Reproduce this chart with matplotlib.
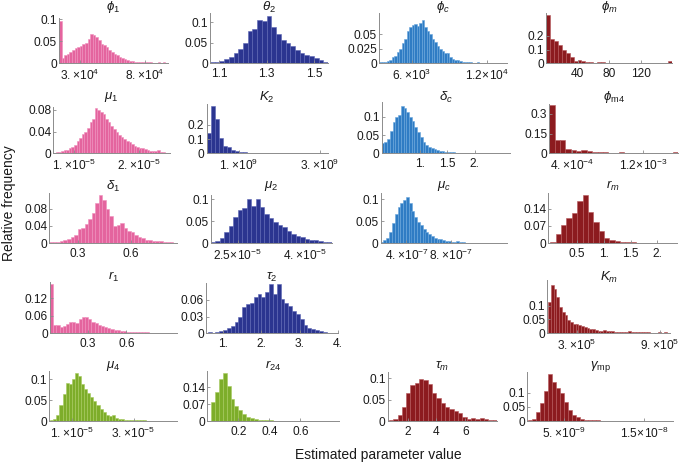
"""
Histogramas de los valores estimados de cada parámetro (frecuencia relativa).
Rejilla 5 x 4, una celda vacía.
"""

import numpy as np
import matplotlib
matplotlib.use("Agg")  # sin ventana
import matplotlib.pyplot as plt

plt.rcParams["font.family"] = ["Liberation Sans", "DejaVu Sans"]
plt.rcParams["mathtext.fontset"] = "custom"
plt.rcParams["mathtext.rm"] = "Liberation Sans"
plt.rcParams["mathtext.it"] = "Liberation Sans:italic"
plt.rcParams["mathtext.bf"] = "Liberation Sans:bold"
plt.rcParams["mathtext.fallback"] = "stixsans"

ANCHO_PX, ALTO_PX = 683, 465

# ---------------------------------------------------------------------------
# Datos: inicio del primer bin, ancho de bin y alturas (frecuencia relativa)
# ---------------------------------------------------------------------------
phi1_inicio, phi1_ancho = 1.4e4, 2e3
phi1_alturas = [0.097, 0.012, 0.018, 0.022, 0.026, 0.030, 0.034, 0.038, 0.040, 0.044,
                0.047, 0.055, 0.066, 0.064, 0.060, 0.052, 0.045, 0.042, 0.038, 0.030,
                0.026, 0.022, 0.019, 0.015, 0.011, 0.009, 0.007, 0.006, 0.005, 0.004,
                0.004, 0.003, 0.003, 0.002, 0.002, 0.002, 0.001, 0.001, 0.002, 0.001, 0.002]

theta2_inicio, theta2_ancho = 1.06, 0.02
theta2_alturas = [0.002, 0.004, 0.006, 0.010, 0.016, 0.024, 0.034, 0.050, 0.078, 0.083,
                  0.105, 0.102, 0.115, 0.088, 0.070, 0.056, 0.050, 0.042, 0.033, 0.025,
                  0.020, 0.017, 0.012, 0.008, 0.004]

phic_inicio, phic_ancho = 3400, 200
phic_alturas = [0.003, 0.003, 0.003, 0.004, 0.005, 0.010, 0.013, 0.020, 0.025, 0.035,
                0.042, 0.055, 0.063, 0.066, 0.068, 0.064, 0.070, 0.074, 0.062, 0.056,
                0.050, 0.042, 0.036, 0.030, 0.025, 0.022, 0.018, 0.018, 0.010, 0.008,
                0.006, 0.005, 0.004, 0.003, 0.003, 0.002, 0.002, 0.001, 0.001, 0.002,
                0.001, 0.001, 0.001, 0.001, 0.001, 0.001, 0.0, 0.001, 0.0, 0.001, 0.0]

phim_inicio, phim_ancho = 0, 5
phim_alturas = [0.354, 0.176, 0.166, 0.134, 0.100, 0.073, 0.044, 0.019, 0.024, 0.018,
                0.010, 0.006, 0.005, 0.007, 0.006, 0.003, 0.002, 0.002, 0.001, 0.002,
                0.001, 0.001, 0.001, 0.002, 0.001, 0.001, 0.001, 0.001, 0.001, 0.001,
                0.002, 0.020]

mu1_inicio, mu1_ancho = 0.68e-5, 4e-7
mu1_alturas = [0.001, 0.002,
               0.003, 0.004, 0.006, 0.006, 0.009, 0.011, 0.016, 0.022, 0.028, 0.035,
               0.040, 0.046, 0.058, 0.064, 0.083, 0.080, 0.076, 0.072, 0.063, 0.058,
               0.050, 0.045, 0.040, 0.034, 0.030, 0.027, 0.022, 0.020, 0.017, 0.014,
               0.012, 0.010, 0.009, 0.008, 0.007, 0.005, 0.005, 0.004, 0.006, 0.002,
               0.002, 0.001, 0.001]

K2_inicio, K2_ancho = 0.2e9, 1e8
K2_alturas = [0.144, 0.330, 0.244, 0.108, 0.053, 0.041, 0.025, 0.015, 0.010, 0.007,
              0.005, 0.004, 0.003, 0.003, 0.002, 0.002, 0.002, 0.001, 0.001, 0.001,
              0.001, 0.001, 0.001, 0.0, 0.001, 0.0, 0.001, 0.0, 0.0, 0.001]

deltac_inicio, deltac_ancho = 0.3, 0.05
deltac_alturas = [0.028, 0.032, 0.040, 0.060, 0.085, 0.098, 0.105, 0.130, 0.125, 0.112,
                  0.098, 0.088, 0.072, 0.058, 0.045, 0.030, 0.022, 0.018, 0.014, 0.012,
                  0.009, 0.007, 0.005, 0.004, 0.004, 0.003, 0.003, 0.002, 0.002, 0.002,
                  0.001, 0.001, 0.001, 0.0, 0.001, 0.001, 0.0, 0.001, 0.0, 0.001,
                  0.0, 0.0, 0.001, 0.0, 0.0, 0.001, 0.0]

phim4_inicio, phim4_ancho = 1.5e-4, 6e-5
phim4_alturas = [0.370, 0.104, 0.098, 0.034, 0.026, 0.021, 0.026, 0.016, 0.012, 0.010,
                 0.008, 0.006, 0.006, 0.008, 0.005, 0.004, 0.005, 0.004, 0.003, 0.004,
                 0.003, 0.002, 0.003, 0.012]

delta1_inicio, delta1_ancho = 0.14, 0.02
delta1_alturas = [0.002, 0.002, 0.003, 0.004, 0.006, 0.009, 0.013, 0.018, 0.032, 0.036,
                  0.044, 0.056, 0.070, 0.092, 0.112, 0.100, 0.078, 0.062, 0.040, 0.042,
                  0.046, 0.036, 0.028, 0.025, 0.018, 0.014, 0.011, 0.008, 0.006, 0.005,
                  0.004, 0.004, 0.003, 0.002, 0.002, 0.001]

mu2_inicio, mu2_ancho = 1.9e-5, 1e-6
mu2_alturas = [0.002, 0.004, 0.012, 0.025, 0.040, 0.060, 0.075, 0.080, 0.100, 0.085,
               0.100, 0.082, 0.066, 0.058, 0.048, 0.042, 0.036, 0.028, 0.020, 0.016,
               0.014, 0.010, 0.008, 0.006, 0.004, 0.003, 0.002]

muc_inicio, muc_ancho = 1.7e-7, 2.5e-8
muc_alturas = [0.002, 0.006, 0.012, 0.025, 0.045, 0.065, 0.082, 0.090, 0.098, 0.105,
               0.092, 0.072, 0.058, 0.048, 0.040, 0.032, 0.026, 0.020, 0.016, 0.012,
               0.010, 0.008, 0.006, 0.005, 0.004, 0.003, 0.003, 0.004, 0.002, 0.002,
               0.001, 0.001, 0.001, 0.0, 0.001, 0.0, 0.001, 0.0, 0.0, 0.001,
               0.0, 0.0, 0.0, 0.0, 0.001]

rm_inicio, rm_ancho = 0.0, 0.1
rm_alturas = [0.005, 0.035, 0.075, 0.100, 0.120, 0.170, 0.195, 0.125, 0.085, 0.050,
              0.020, 0.012, 0.008, 0.005, 0.004, 0.003, 0.002, 0.002, 0.001, 0.002,
              0.001, 0.001, 0.001]

r1_inicio, r1_ancho = 0.0, 0.025
r1_alturas = [0.170, 0.030, 0.030, 0.022, 0.025, 0.032, 0.038, 0.040, 0.036, 0.048,
              0.055, 0.055, 0.048, 0.040, 0.034, 0.028, 0.024, 0.020, 0.018, 0.015,
              0.012, 0.012, 0.009, 0.008, 0.006, 0.005, 0.005, 0.004, 0.003, 0.003,
              0.003, 0.002, 0.002, 0.002, 0.001, 0.002, 0.001, 0.001, 0.001, 0.001]

tau2_inicio, tau2_ancho = 0.6, 0.1
tau2_alturas = [0.002, 0.001, 0.002, 0.004, 0.006, 0.010, 0.014, 0.020, 0.030, 0.048,
                0.052, 0.055, 0.065, 0.070, 0.065, 0.075, 0.088, 0.070, 0.088, 0.062,
                0.055, 0.050, 0.040, 0.035, 0.025, 0.015, 0.010, 0.008, 0.006, 0.004,
                0.002]

Km_inicio, Km_ancho = 0.9e5, 2e4
Km_alturas = [0.114, 0.174, 0.160, 0.132, 0.096, 0.076, 0.067, 0.049, 0.040, 0.033,
              0.033, 0.029, 0.026, 0.024, 0.020, 0.016, 0.014, 0.012, 0.010, 0.009,
              0.012, 0.010, 0.008, 0.007, 0.006, 0.005, 0.005, 0.006, 0.005, 0.007,
              0.004, 0.003, 0.004, 0.003, 0.004, 0.003, 0.003, 0.002, 0.002, 0.002,
              0.003, 0.002, 0.004, 0.002]

mu4_inicio, mu4_ancho = 3e-6, 1e-6
mu4_alturas = [0.002, 0.005, 0.015, 0.038, 0.065, 0.092, 0.088, 0.100, 0.116, 0.108,
               0.090, 0.078, 0.068, 0.058, 0.048, 0.038, 0.030, 0.022, 0.014, 0.012,
               0.014, 0.009, 0.006, 0.006, 0.004, 0.004, 0.003, 0.003, 0.002, 0.002,
               0.002, 0.001, 0.001, 0.001, 0.001, 0.001, 0.001, 0.0, 0.001, 0.0, 0.001]

r24_inicio, r24_ancho = 0.0, 0.025
r24_alturas = [0.0, 0.079, 0.121, 0.174, 0.200, 0.146, 0.093, 0.062, 0.048, 0.030,
               0.018, 0.012, 0.008, 0.006, 0.005, 0.004, 0.005, 0.003, 0.002, 0.002,
               0.001, 0.001, 0.001, 0.001, 0.0, 0.001, 0.0, 0.0, 0.001, 0.0,
               0.0, 0.0, 0.0, 0.001]

taum_inicio, taum_ancho = 0.7, 0.3
taum_alturas = [0.003, 0.005, 0.015, 0.034, 0.065, 0.084, 0.089, 0.097, 0.095, 0.086,
                0.065, 0.053, 0.042, 0.034, 0.028, 0.023, 0.019, 0.011, 0.005, 0.008,
                0.006, 0.008, 0.005, 0.003, 0.002]

gmp_inicio, gmp_ancho = 0.5e-9, 0.5e-9
gmp_alturas = [0.003, 0.008, 0.034, 0.065, 0.107, 0.165, 0.138, 0.115, 0.098, 0.069,
               0.040, 0.022, 0.014, 0.008, 0.006, 0.004, 0.005, 0.003, 0.002, 0.002,
               0.001, 0.002, 0.001, 0.001, 0.001, 0.001, 0.0, 0.001, 0.001, 0.0,
               0.001, 0.0, 0.0, 0.001, 0.0, 0.001]

# ---------------------------------------------------------------------------
# Colores (relleno, borde)
# ---------------------------------------------------------------------------
ROSA = ("#e4649e", "#f08fbd")
AZUL_OSC = ("#2b3590", "#5c66b4")
AZUL = ("#2f7cc4", "#6aa6dc")
ROJO = ("#8c1b1f", "#b5575a")
VERDE = ("#7dad2a", "#a7cb5f")

# fila -> (y del cero en px, y del título en px)
FILAS = {0: (63.3, 7), 1: (153.3, 97), 2: (243.0, 186), 3: (333.3, 277), 4: (421.3, 366)}

# cada panel: título, color, fila, izquierda/derecha/arriba en px, datos,
# límites x, tope y, ticks y, ticks x (valores y etiquetas)
PANELES = [
    (r"$\phi_1$", ROSA, 0, 59, 168, 18, (phi1_inicio, phi1_ancho, phi1_alturas),
     (1.4e4, 9.8e4), 0.103, [0, 0.05, 0.1], ["0", "0.05", "0.1"],
     [3e4, 8e4], [r"$3.\!\times\!10^{4}$", r"$8.\!\times\!10^{4}$"]),
    (r"$\theta_2$", AZUL_OSC, 0, 210, 328, 13, (theta2_inicio, theta2_ancho, theta2_alturas),
     (1.06, 1.56), 0.122, [0, 0.05, 0.1], ["0", "0.05", "0.1"],
     [1.1, 1.3, 1.5], ["1.1", "1.3", "1.5"]),
    (r"$\phi_c$", AZUL, 0, 379, 507, 13, (phic_inicio, phic_ancho, phic_alturas),
     (3.4e3, 1.36e4), 0.0867, [0, 0.025, 0.05], ["0", "0.025", "0.05"],
     [6e3, 1.2e4], [r"$6.\!\times\!10^{3}$", r"$1.2\!\times\!10^{4}$"]),
    (r"$\phi_m$", ROJO, 0, 546, 672, 13.3, (phim_inicio, phim_ancho, phim_alturas),
     (0, 160), 0.366, [0, 0.1, 0.2], ["0", "0.1", "0.2"],
     [40, 80, 120], ["40", "80", "120"]),

    (r"$\mu_1$", ROSA, 1, 53.3, 170, 106.7, (mu1_inicio, mu1_ancho, mu1_alturas),
     (0.68e-5, 2.48e-5), 0.086, [0, 0.04, 0.08], ["0", "0.04", "0.08"],
     [1e-5, 2e-5], [r"$1.\!\times\!10^{-5}$", r"$2.\!\times\!10^{-5}$"]),
    (r"$K_2$", AZUL_OSC, 1, 206.5, 328, 104, (K2_inicio, K2_ancho, K2_alturas),
     (0.2e9, 3.2e9), 0.347, [0, 0.1, 0.2], ["0", "0.1", "0.2"],
     [1e9, 3e9], [r"$1.\!\times\!10^{9}$", r"$3.\!\times\!10^{9}$"]),
    (r"$\delta_c$", AZUL, 1, 381.7, 510, 101.7, (deltac_inicio, deltac_ancho, deltac_alturas),
     (0.3, 2.65), 0.141, [0, 0.05, 0.1], ["0", "0.05", "0.1"],
     [1.0, 1.5, 2.0], ["1.", "1.5", "2."]),
    (r"$\phi_{\mathrm{m4}}$", ROJO, 1, 549.3, 678, 104, (phim4_inicio, phim4_ancho, phim4_alturas),
     (1.5e-4, 1.59e-3), 0.376, [0, 0.15, 0.3], ["0", "0.15", "0.3"],
     [4e-4, 1.2e-3], [r"$4.\!\times\!10^{-4}$", r"$1.2\!\times\!10^{-3}$"]),

    (r"$\delta_1$", ROSA, 2, 49.3, 176.7, 192.7, (delta1_inicio, delta1_ancho, delta1_alturas),
     (0.14, 0.86), 0.117, [0, 0.04, 0.08], ["0", "0.04", "0.08"],
     [0.3, 0.6], ["0.3", "0.6"]),
    (r"$\mu_2$", AZUL_OSC, 2, 210.7, 331.7, 195, (mu2_inicio, mu2_ancho, mu2_alturas),
     (1.9e-5, 4.6e-5), 0.11, [0, 0.05, 0.1], ["0", "0.05", "0.1"],
     [2.5e-5, 4e-5], [r"$2.5\!\times\!10^{-5}$", r"$4.\!\times\!10^{-5}$"]),
    (r"$\mu_c$", AZUL, 2, 380.7, 506.7, 193.3, (muc_inicio, muc_ancho, muc_alturas),
     (1.7e-7, 1.295e-6), 0.113, [0, 0.05, 0.1], ["0", "0.05", "0.1"],
     [4e-7, 8e-7], [r"$4.\!\times\!10^{-7}$", r"$8.\!\times\!10^{-7}$"]),
    (r"$r_m$", ROJO, 2, 548.3, 676.7, 193.3, (rm_inicio, rm_ancho, rm_alturas),
     (-0.04, 2.36), 0.202, [0, 0.07, 0.14], ["0", "0.07", "0.14"],
     [0.5, 1.0, 1.5, 2.0], ["0.5", "1.", "1.5", "2."]),

    (r"$r_1$", ROSA, 3, 50, 177.3, 281.7, (r1_inicio, r1_ancho, r1_alturas),
     (0.0, 1.0), 0.177, [0, 0.06, 0.12], ["0", "0.06", "0.12"],
     [0.3, 0.6], ["0.3", "0.6"]),
    (r"$\tau_2$", AZUL_OSC, 3, 206, 338, 283.3, (tau2_inicio, tau2_ancho, tau2_alturas),
     (0.555, 4.0), 0.09, [0, 0.03, 0.06], ["0", "0.03", "0.06"],
     [1, 2, 3, 4], ["1.", "2.", "3.", "4."]),
    None,
    (r"$K_m$", ROJO, 3, 547.3, 670, 280, (Km_inicio, Km_ancho, Km_alturas),
     (0.85e5, 9.75e5), 0.193, [0, 0.05, 0.1], ["0", "0.05", "0.1"],
     [3e5, 9e5], [r"$3.\!\times\!10^{5}$", r"$9.\!\times\!10^{5}$"]),

    (r"$\mu_4$", VERDE, 4, 49.3, 176.7, 371, (mu4_inicio, mu4_ancho, mu4_alturas),
     (0.27e-5, 4.4e-5), 0.12, [0, 0.05, 0.1], ["0", "0.05", "0.1"],
     [1e-5, 3e-5], [r"$1.\!\times\!10^{-5}$", r"$3.\!\times\!10^{-5}$"]),
    (r"$r_{24}$", VERDE, 4, 207.3, 339, 371, (r24_inicio, r24_ancho, r24_alturas),
     (0.0, 0.85), 0.207, [0, 0.07, 0.14], ["0", "0.07", "0.14"],
     [0.2, 0.4, 0.6], ["0.2", "0.4", "0.6"]),
    (r"$\tau_m$", ROJO, 4, 387.7, 497, 372, (taum_inicio, taum_ancho, taum_alturas),
     (0.62, 8.2), 0.114, [0, 0.05, 0.1], ["0", "0.05", "0.1"],
     [2, 4, 6], ["2", "4", "6"]),
    (r"$\gamma_{\mathrm{mp}}$", ROJO, 4, 527.3, 673, 372, (gmp_inicio, gmp_ancho, gmp_alturas),
     (0.4e-9, 18.6e-9), 0.172, [0, 0.05, 0.1], ["0", "0.05", "0.1"],
     [5e-9, 1.5e-8], [r"$5.\!\times\!10^{-9}$", r"$1.5\!\times\!10^{-8}$"]),
]


def dibujar_panel(fig, panel):
    (titulo, (relleno, borde), fila, izq, der, arriba, datos,
     xlim, ytope, yticks, yetiq, xticks, xetiq) = panel
    abajo, y_titulo = FILAS[fila]

    ax = fig.add_axes([izq / ANCHO_PX, 1 - abajo / ALTO_PX,
                       (der - izq) / ANCHO_PX, (abajo - arriba) / ALTO_PX])
    inicio, ancho, alturas = datos
    bordes_izq = inicio + ancho * np.arange(len(alturas))
    ax.bar(bordes_izq, alturas, width=ancho, align="edge",
           color=relleno, edgecolor=borde, linewidth=0.4)

    ax.set_xlim(*xlim)
    ax.set_ylim(0, ytope)
    ax.set_yticks(yticks, yetiq)
    ax.set_xticks(xticks, xetiq)
    for lado in ("top", "right"):
        ax.spines[lado].set_visible(False)
    for lado in ("left", "bottom"):
        ax.spines[lado].set_color("#8c8c8c")
        ax.spines[lado].set_linewidth(0.7)
    ax.tick_params(direction="in", length=2, width=0.6, color="#8c8c8c",
                   labelsize=8.6, labelcolor="#1a1a1a")
    ax.tick_params(axis="x", pad=3.5)
    ax.tick_params(axis="y", pad=1.5)
    ax.patch.set_alpha(0)

    centro = (izq + der) / 2
    fig.text(centro / ANCHO_PX, 1 - y_titulo / ALTO_PX, titulo,
             ha="center", va="center", fontsize=9.5, color="#1a1a1a")


if __name__ == "__main__":
    fig = plt.figure(figsize=(ANCHO_PX / 100, ALTO_PX / 100), dpi=100)

    for panel in PANELES:
        if panel is not None:
            dibujar_panel(fig, panel)

    fig.text(9 / ANCHO_PX, 1 - 203 / ALTO_PX, "Relative frequency", rotation=90,
             ha="center", va="center", fontsize=10, color="#1a1a1a")
    fig.text(378 / ANCHO_PX, 1 - 455 / ALTO_PX, "Estimated parameter value",
             ha="center", va="center", fontsize=10, color="#1a1a1a")

    fig.savefig("out.png", dpi=100)
    plt.close(fig)
